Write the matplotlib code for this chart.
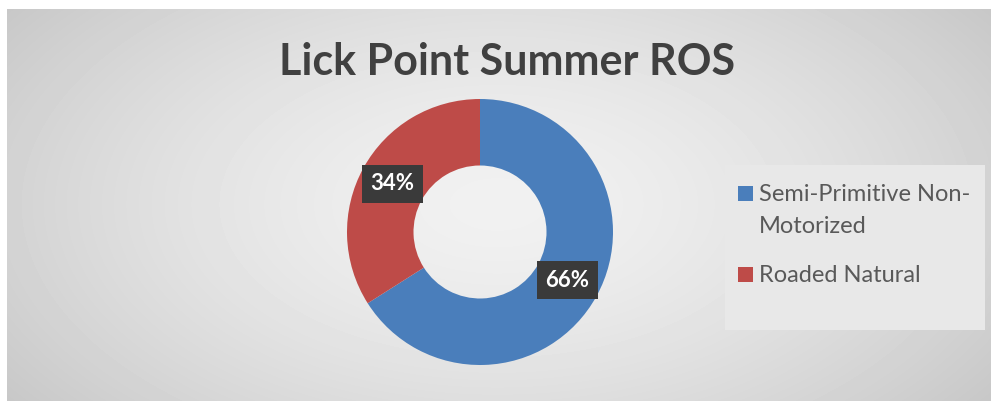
import numpy as np
import matplotlib.pyplot as plt
from matplotlib.patches import Rectangle

title = "Lick Point Summer ROS"
categories = ["Semi-Primitive Non-\nMotorized", "Roaded Natural"]
shares = [66, 34]
colors = ["#4a7ebb", "#be4b48"]

plt.rcParams["font.family"] = ["Lato", "DejaVu Sans"]

W, H = 993, 404
fig = plt.figure(figsize=(W / 100, H / 100), dpi=100)
fig.patch.set_facecolor("white")


def px(x, y):
    # pixel position from the top-left corner -> figure fraction
    return x / W, 1 - y / H


# chart area with soft radial shading
bg = fig.add_axes([7 / W, 3 / H, 984 / W, 392 / H])
yy, xx = np.mgrid[0:392, 0:984]
d = np.sqrt(((xx - 490) / 600) ** 2 + ((yy - 195) / 330) ** 2)
shade = 0.945 - 0.16 * d ** 1.5
bg.imshow(shade, cmap="gray", vmin=0, vmax=1, aspect="auto", interpolation="bilinear")
bg.axis("off")

fig.text(*px(507, 75), title, ha="center", va="baseline",
         fontsize=31, fontweight="bold", color="#404040")

# donut
ax = fig.add_axes([347 / W, (H - 365) / H, 266 / W, 266 / H])
wedges, _ = ax.pie(shares, colors=colors, startangle=90, counterclock=False,
                   radius=1, wedgeprops=dict(width=0.5, edgecolor="none"))
ax.set_xlim(-1, 1)
ax.set_ylim(-1, 1)
ax.set_aspect("equal")
ax.axis("off")

for w, share in zip(wedges, shares):
    ang = np.deg2rad((w.theta1 + w.theta2) / 2)
    ax.text(0.75 * np.cos(ang), 0.75 * np.sin(ang), f"{share}%",
            ha="center", va="center", color="white", fontsize=16, fontweight="bold",
            bbox=dict(boxstyle="square,pad=0.4", fc="#3a3a3a", ec="none"))

# legend panel, drawn by hand so the wrapped label keeps its line gap
fig.patches.append(Rectangle(px(725, 330), 260 / W, 165 / H,
                             transform=fig.transFigure, fc="#e8e8e8", ec="none", zorder=1))
entry_top = [186, 267]
for top, label, color in zip(entry_top, categories, colors):
    fig.patches.append(Rectangle(px(738, top + 15), 15 / W, 15 / H,
                                 transform=fig.transFigure, fc=color, ec="none", zorder=2))
    for i, line in enumerate(label.split("\n")):
        fig.text(*px(759, top + 15 + 32 * i), line, ha="left", va="baseline",
                 fontsize=17, color="#595959")

fig.savefig("out.png", dpi=100)
